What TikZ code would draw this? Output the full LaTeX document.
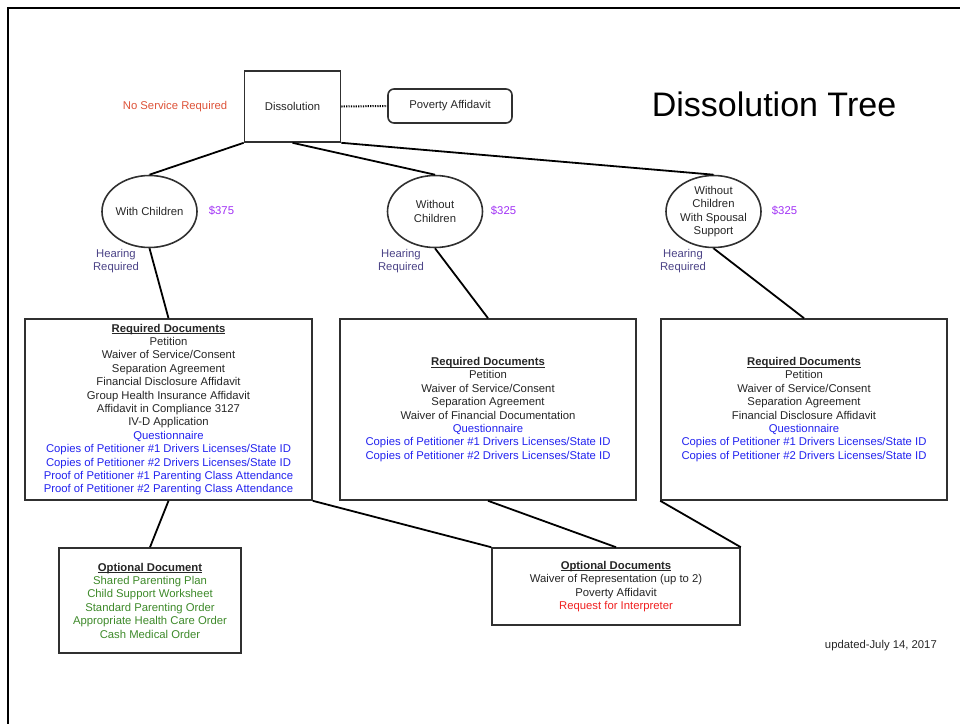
\documentclass[tikz,border=0pt]{standalone}
\usepackage{fontspec}
\setmainfont{Liberation Sans}
\usetikzlibrary{shapes.geometric}
\definecolor{txt}{HTML}{262626}
\definecolor{edge}{HTML}{303030}
\definecolor{docblue}{HTML}{2323F0}
\definecolor{docgreen}{HTML}{3E8A2A}
\definecolor{docred}{HTML}{F02020}
\definecolor{noserv}{HTML}{DD5238}
\definecolor{fee}{HTML}{A030F5}
\definecolor{hear}{HTML}{4A4286}
% bold, underlined heading that keeps the normal line spacing
\newcommand{\boxhead}[1]{\setbox0\hbox{\textbf{#1}}\rlap{\rule[-1.9pt]{\wd0}{0.8pt}}\box0}
\begin{document}
\begin{tikzpicture}[x=1pt,y=-1pt,
  every node/.style={font=\fontsize{11.3}{13.4}\selectfont, text=txt, align=center, inner sep=0pt},
  rectbox/.style={draw=edge, line width=1.6pt, fill=white},
  roundbox/.style={draw=edge, line width=1.6pt, rounded corners=6pt},
  oval/.style={ellipse, draw=edge, line width=1.6pt, minimum width=95pt, minimum height=72pt, inner sep=-6pt},
  conn/.style={line width=1.8pt, black},
  feelabel/.style={text=fee},
  hearlabel/.style={text=hear},
]
\useasboundingbox (0,0) rectangle (960,723);
% outer frame
\draw[line width=2.2pt] (8,8) rectangle (975,740);

% top of the tree
\node[rectbox, minimum width=96pt, minimum height=71pt] (diss) at (292.5,106.5) {Dissolution};
\node[roundbox, minimum width=124pt, minimum height=34pt] (pov) at (450,106) {Poverty Affidavit};
\node[text=noserv] (nosrv) at (175,106.5) {No Service Required};
\node[font=\fontsize{34}{37}\selectfont, text=black] (title) at (774,104) {Dissolution Tree};
\draw[line width=2pt, dash pattern=on 1.2pt off 1.2pt] (diss.east) -- (pov.west);

% case types
\node[oval] (kids) at (149.5,211.5) {With Children};
\node[oval] (nokids) at (435,211.5) {Without\\Children};
\node[oval] (spouse) at (713.5,211.5) {Without\\Children\\With Spousal\\Support};
\node[feelabel] (fee1) at (221.5,211) {\$375};
\node[feelabel] (fee2) at (503.5,211) {\$325};
\node[feelabel] (fee3) at (784.5,211) {\$325};
\node[hearlabel] (hear1) at (116,261) {Hearing\\Required};
\node[hearlabel] (hear2) at (401,261) {Hearing\\Required};
\node[hearlabel] (hear3) at (683,261) {Hearing\\Required};

% required documents
\node[rectbox, minimum width=287pt, minimum height=181pt] (req1) at (168.5,409.5) {%
  \boxhead{Required Documents}\\
  Petition\\
  Waiver of Service/Consent\\
  Separation Agreement\\
  Financial Disclosure Affidavit\\
  Group Health Insurance Affidavit\\
  Affidavit in Compliance 3127\\
  IV-D Application\\
  \textcolor{docblue}{Questionnaire}\\
  \textcolor{docblue}{Copies of Petitioner \#1 Drivers Licenses/State ID}\\
  \textcolor{docblue}{Copies of Petitioner \#2 Drivers Licenses/State ID}\\
  \textcolor{docblue}{Proof of Petitioner \#1 Parenting Class Attendance}\\
  \textcolor{docblue}{Proof of Petitioner \#2 Parenting Class Attendance}};
\node[rectbox, minimum width=296pt, minimum height=181pt] (req2) at (488,409.5) {%
  \boxhead{Required Documents}\\
  Petition\\
  Waiver of Service/Consent\\
  Separation Agreement\\
  Waiver of Financial Documentation\\
  \textcolor{docblue}{Questionnaire}\\
  \textcolor{docblue}{Copies of Petitioner \#1 Drivers Licenses/State ID}\\
  \textcolor{docblue}{Copies of Petitioner \#2 Drivers Licenses/State ID}};
\node[rectbox, minimum width=286pt, minimum height=181pt] (req3) at (804,409.5) {%
  \boxhead{Required Documents}\\
  Petition\\
  Waiver of Service/Consent\\
  Separation Agreement\\
  Financial Disclosure Affidavit\\
  \textcolor{docblue}{Questionnaire}\\
  \textcolor{docblue}{Copies of Petitioner \#1 Drivers Licenses/State ID}\\
  \textcolor{docblue}{Copies of Petitioner \#2 Drivers Licenses/State ID}};

% optional documents
\node[rectbox, minimum width=182pt, minimum height=105pt] (optkids) at (150,600.5) {%
  \boxhead{Optional Document}\\
  \textcolor{docgreen}{Shared Parenting Plan}\\
  \textcolor{docgreen}{Child Support Worksheet}\\
  \textcolor{docgreen}{Standard Parenting Order}\\
  \textcolor{docgreen}{Appropriate Health Care Order}\\
  \textcolor{docgreen}{Cash Medical Order}};
\node[rectbox, minimum width=248pt, minimum height=77pt] (optall) at (616,586.5) {%
  \boxhead{Optional Documents}\\
  Waiver of Representation (up to 2)\\
  Poverty Affidavit\\
  \textcolor{docred}{Request for Interpreter}};

\node[anchor=east] (upd) at (937,646) {updated-July 14, 2017};

% connectors
\draw[conn] (diss.south west) -- (kids.north);
\draw[conn] (diss.south) -- (nokids.north);
\draw[conn] (diss.south east) -- (spouse.north);
\draw[conn] (kids.south) -- (req1.north);
\draw[conn] (nokids.south) -- (req2.north);
\draw[conn] (spouse.south) -- (req3.north);
\draw[conn] (req1.south) -- (optkids.north);
\draw[conn] (req1.south east) -- (optall.north west);
\draw[conn] (req2.south) -- (optall.north);
\draw[conn] (req3.south west) -- (optall.north east);
\end{tikzpicture}
\end{document}
